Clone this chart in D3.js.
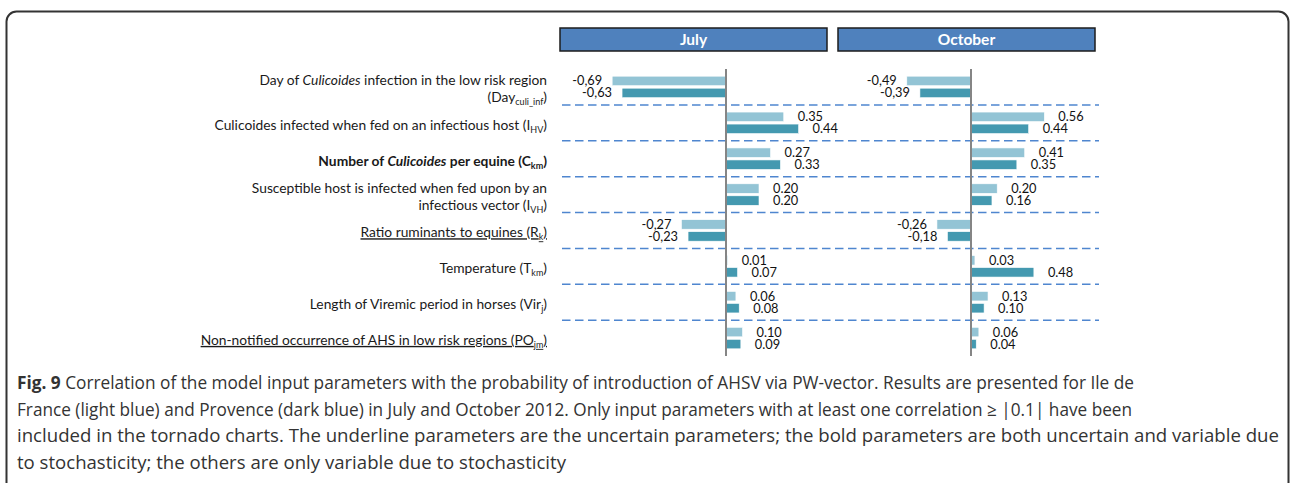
<!DOCTYPE html>
<html>
<head>
<meta charset="utf-8">
<script src="https://cdn.jsdelivr.net/npm/d3@7"></script>
<style>
  body { margin: 0; background: #fff; }
  svg { display: block; }
  .lbl { font-family: Lato, 'Open Sans', sans-serif; font-size: 13.8px; fill: #1a1a1a; }
  .val { font-family: Lato, 'Open Sans', sans-serif; font-size: 12.8px; fill: #111; }
  .cap { font-family: 'Open Sans', 'Noto Sans', sans-serif; font-size: 17.5px; fill: #333; }
</style>
</head>
<body>
<div id="chart"></div>
<script>
// parameters, top to bottom; each line is a list of [text, style] parts
// style: '' plain, 'i' italic, 's' subscript
const params = [
  [[['Day of ', ''], ['Culicoides', 'i'], [' infection in the low risk region', '']],
   [['(Day', ''], ['culi_inf', 's'], [')', '']]],
  [[['Culicoides infected when fed on an infectious host (I', ''], ['HV', 's'], [')', '']]],
  [[['Number of ', ''], ['Culicoides', 'i'], [' per equine (C', ''], ['km', 's'], [')', '']]],
  [[['Susceptible host is infected when fed upon by an', '']],
   [['infectious vector (I', ''], ['VH', 's'], [')', '']]],
  [[['Ratio ruminants to equines (R', ''], ['k', 's'], [')', '']]],
  [[['Temperature (T', ''], ['km', 's'], [')', '']]],
  [[['Length of Viremic period in horses (Vir', ''], ['j', 's'], [')', '']]],
  [[['Non-notified occurrence of AHS in low risk regions (PO', ''], ['jm', 's'], [')', '']]]
];
const boldParams = [2];
const underlinedParams = [4, 7];

const months = ['July', 'October'];

// Ile de France (light blue) and Provence (dark blue)
const julyIle = [-0.69, 0.35, 0.27, 0.20, -0.27, 0.01, 0.06, 0.10];
const julyProvence = [-0.63, 0.44, 0.33, 0.20, -0.23, 0.07, 0.08, 0.09];
const octoberIle = [-0.49, 0.56, 0.41, 0.20, -0.26, 0.03, 0.13, 0.06];
const octoberProvence = [-0.39, 0.44, 0.35, 0.16, -0.18, 0.48, 0.10, 0.04];

const captionLines = [
  [['Fig. 9', true], [' Correlation of the model input parameters with the probability of introduction of AHSV via PW-vector. Results are presented for Ile de', false]],
  [['France (light blue) and Provence (dark blue) in July and October 2012. Only input parameters with at least one correlation \u2265 |0.1| have been', false]],
  [['included in the tornado charts. The underline parameters are the uncertain parameters; the bold parameters are both uncertain and variable due', false]],
  [['to stochasticity; the others are only variable due to stochasticity', false]]
];
const captionWidths = [1117, 1115, 1262, 549];

const W = 1290, H = 483;
const colors = { ile: '#93c4d5', provence: '#4499b0', header: '#4f81bd', dash: '#4f86cf' };

const svg = d3.select('#chart').append('svg')
  .attr('width', W)
  .attr('height', H);

// frame
svg.append('rect')
  .attr('x', 6.5).attr('y', 11.5)
  .attr('width', 1282).attr('height', 520)
  .attr('rx', 10)
  .attr('fill', 'none')
  .attr('stroke', '#333')
  .attr('stroke-width', 2);

// rows
const y = d3.scaleBand()
  .domain(d3.range(params.length))
  .range([69, 356]);
const rowMid = i => y(i) + y.bandwidth() / 2;
const barH = 9.5;

// one panel per month
const panels = [
  { name: months[0], ile: julyIle, prov: julyProvence,
    x: d3.scaleLinear().domain([-1, 0.6]).range([561, 825]), box: [560, 827] },
  { name: months[1], ile: octoberIle, prov: octoberProvence,
    x: d3.scaleLinear().domain([-1, 1]).range([840, 1102]), box: [838, 1095] }
];

// dashed separators between rows
svg.append('g').selectAll('line')
  .data(d3.range(1, params.length))
  .join('line')
  .attr('x1', 562).attr('x2', 1099)
  .attr('y1', d => y(d)).attr('y2', d => y(d))
  .attr('stroke', colors.dash)
  .attr('stroke-width', 1.5)
  .attr('stroke-dasharray', '8.5 4.5');

const fmt = v => (v < 0 ? '-' + Math.abs(v).toFixed(2).replace('.', ',') : v.toFixed(2));

panels.forEach((p) => {
  const g = svg.append('g');

  // month header
  g.append('rect')
    .attr('x', p.box[0]).attr('y', 28)
    .attr('width', p.box[1] - p.box[0]).attr('height', 23)
    .attr('fill', colors.header)
    .attr('stroke', '#1d1d1d')
    .attr('stroke-width', 1.5);
  g.append('text')
    .attr('x', (p.box[0] + p.box[1]) / 2).attr('y', 40)
    .attr('dy', '0.35em')
    .attr('text-anchor', 'middle')
    .style('font-family', 'Lato, sans-serif')
    .style('font-weight', 'bold')
    .style('font-size', '15.5px')
    .style('fill', '#fff')
    .text(p.name);

  const series = [
    { vals: p.ile, off: -6, color: colors.ile },
    { vals: p.prov, off: 6, color: colors.provence }
  ];

  series.forEach((s) => {
    g.append('g').selectAll('rect')
      .data(s.vals)
      .join('rect')
      .attr('x', d => p.x(Math.min(0, d)))
      .attr('width', d => Math.abs(p.x(d) - p.x(0)))
      .attr('y', (d, i) => rowMid(i) + s.off - barH / 2)
      .attr('height', barH)
      .attr('fill', s.color)
      .attr('stroke', '#fff')
      .attr('stroke-width', 0.6);

    g.append('g').selectAll('text')
      .data(s.vals)
      .join('text')
      .attr('class', 'val')
      .attr('x', d => (d < 0 ? p.x(d) - 10 : p.x(d) + 14))
      .attr('y', (d, i) => rowMid(i) + s.off)
      .attr('dy', '0.35em')
      .attr('text-anchor', d => (d < 0 ? 'end' : 'start'))
      .text(fmt);
  });

  // zero line
  g.append('line')
    .attr('x1', p.x(0)).attr('x2', p.x(0))
    .attr('y1', y.range()[0]).attr('y2', y.range()[1])
    .attr('stroke', '#858585')
    .attr('stroke-width', 2);
});

// parameter labels
const lineGap = 17;
params.forEach((lines, i) => {
  const top = rowMid(i) + 2 - (lines.length - 1) * lineGap / 2;
  lines.forEach((parts, j) => {
    const t = svg.append('text')
      .attr('class', 'lbl')
      .attr('x', 547)
      .attr('y', top + j * lineGap)
      .attr('dy', '0.35em')
      .attr('text-anchor', 'end')
      .style('font-weight', boldParams.includes(i) ? 'bold' : null)
      .style('text-decoration', underlinedParams.includes(i) ? 'underline' : null);
    parts.forEach(([txt, st], k) => {
      const ts = t.append('tspan').text(txt);
      if (st === 'i') ts.style('font-style', 'italic');
      if (st === 's') ts.attr('dy', 3).style('font-size', '9px');
      if (st !== 's' && k > 0 && parts[k - 1][1] === 's') ts.attr('dy', -3);
    });
  });
});

// caption
captionLines.forEach((parts, i) => {
  const t = svg.append('text')
    .attr('class', 'cap')
    .attr('x', 17)
    .attr('y', 389 + i * 26.5)
    .attr('textLength', captionWidths[i])
    .attr('lengthAdjust', 'spacingAndGlyphs');
  parts.forEach(([txt, bold]) => {
    t.append('tspan').text(txt).style('font-weight', bold ? 'bold' : null);
  });
});
</script>
</body>
</html>
